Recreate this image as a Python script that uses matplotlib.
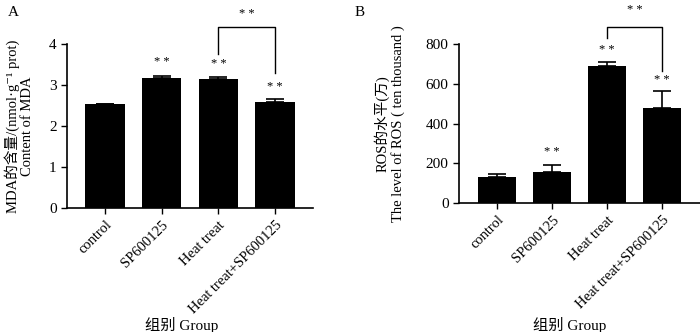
import matplotlib
matplotlib.use("Agg")
import matplotlib.pyplot as plt
import numpy as np

plt.rcParams['font.family'] = ['Liberation Serif', 'Noto Sans CJK SC', 'DejaVu Serif']
plt.rcParams['axes.unicode_minus'] = False

groups = ["control", "SP600125", "Heat treat", "Heat treat+SP600125"]

# panel A: MDA content
mda = [2.53, 3.18, 3.14, 2.59]
mda_err = [0.01, 0.05, 0.05, 0.08]
mda_star = [None, 3.56, 3.51, 2.95]

# panel B: ROS level
ros = [132, 157, 689, 479]
ros_err = [15, 36, 19, 86]
ros_star = [None, 257, 770, 619]

fig = plt.figure(figsize=(7, 3.32), dpi=100)
axA = fig.add_axes([67/700, 1-208/332, 246/700, 164/332])
axB = fig.add_axes([459/700, 1-203/332, 241/700, 159/332])


def draw(ax, vals, errs, stars, ylim, yticks, xlim, bracket, ylabel):
    x = np.arange(len(groups))
    ax.bar(x, vals, width=0.7, color='black', zorder=2)
    ax.errorbar(x, vals, yerr=[np.zeros(len(errs)), errs], fmt='none',
                ecolor='black', elinewidth=1.2, capsize=6.5, capthick=1.2, zorder=1)
    for xi, s in zip(x, stars):
        if s is not None:
            ax.text(xi, s, "* *", ha='center', va='center', fontsize=9)
    # significance bracket between heat treat and heat treat+SP600125
    top, lb, rb, st = bracket
    ax.plot([2, 2, 3, 3], [lb, top, top, rb], color='black', lw=1, clip_on=False)
    ax.text(2.5, st, "* *", ha='center', va='center', fontsize=9)
    ax.set_xlim(*xlim)
    ax.set_ylim(*ylim)
    ax.set_yticks(yticks)
    ax.set_xticks(x)
    ax.set_xticklabels(groups, rotation=45, ha='right', rotation_mode='anchor', fontsize=10.5)
    ax.tick_params(axis='y', labelsize=11, length=4, width=1)
    ax.tick_params(axis='x', length=4, width=1)
    for side in ['top', 'right']:
        ax.spines[side].set_visible(False)
    for side in ['left', 'bottom']:
        ax.spines[side].set_linewidth(1.2)
    ax.set_ylabel(ylabel, fontsize=10.5, linespacing=1.1)


draw(axA, mda, mda_err, mda_star, (0, 4), [0, 1, 2, 3, 4], (-0.67, 3.67),
     (4.41, 3.76, 3.29, 4.73), "MDA的含量/(nmol·g\u207b\u00b9 prot)\nContent of MDA")
draw(axB, ros, ros_err, ros_star, (0, 800), [0, 200, 400, 600, 800], (-0.69, 3.69),
     (886, 830, 664, 971), "ROS的水平(万)\nThe level of ROS ( ten thousand )")

axA.yaxis.set_label_coords(-0.135, 0.5)
axB.yaxis.set_label_coords(-0.225, 0.5)

fig.text(8/700, 1-12/332, "A", fontsize=11, va='center')
fig.text(355/700, 1-12/332, "B", fontsize=11, va='center')
fig.text(182/700, 1-325/332, "组别 Group", fontsize=11, ha='center', va='center')
fig.text(570/700, 1-325/332, "组别 Group", fontsize=11, ha='center', va='center')

fig.savefig("out.png", dpi=100)
